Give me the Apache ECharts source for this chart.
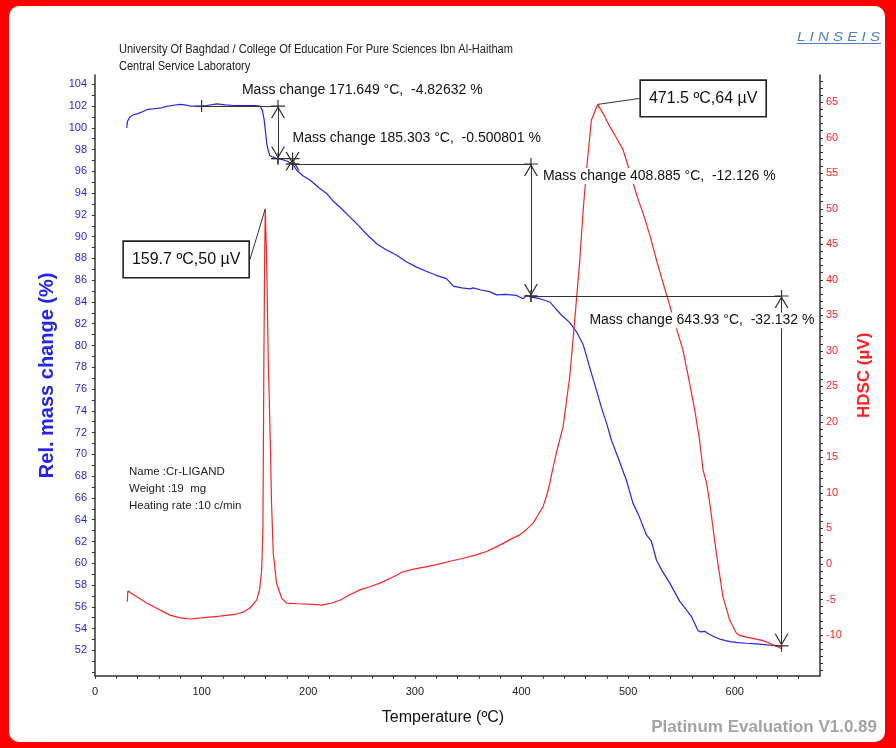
<!DOCTYPE html>
<html>
<head>
<meta charset="utf-8">
<title>TGA / HDSC - Cr-LIGAND</title>
<script src="https://cdn.jsdelivr.net/npm/echarts@6/dist/echarts.min.js"></script>
<style>
  html, body { margin: 0; padding: 0; background: #fff; }
  #chart { width: 896px; height: 748px; }
</style>
</head>
<body>
<div id="chart"></div>
<script>
// TGA curve: [temperature (°C), rel. mass (%)]
const tgaCurve = [
  [29.7, 100.0], [30.5, 100.6], [32.8, 101.0], [36, 101.2], [40.3, 101.3], [45, 101.5],
  [49.7, 101.7], [55, 101.75], [60.9, 101.8], [66, 101.95], [72, 102.05], [79.7, 102.15],
  [84, 102.1], [89.1, 102.0], [94, 102.0], [98.4, 101.95], [105, 102.05], [114.4, 102.2],
  [122, 102.1], [130, 102.05], [140, 102.05], [150, 102.05], [154.7, 102.0], [157, 101.6],
  [158.7, 100.7], [160, 99.6], [161, 98.6], [162.5, 97.9], [164, 97.45], [167, 97.3],
  [170.3, 97.2], [175, 97.1], [179.7, 96.95], [183, 96.8], [185.9, 96.63], [189.1, 96.1],
  [195, 95.6], [201.6, 95.2], [210, 94.5], [217.2, 93.97], [223, 93.3], [229.8, 92.7],
  [237, 92.0], [245.4, 91.2], [255, 90.2], [264.2, 89.35], [273, 88.8], [283, 88.3],
  [292, 87.7], [301.6, 87.2], [310, 86.85], [320, 86.45], [329.7, 86.15], [336, 85.45],
  [344, 85.3], [351.7, 85.2], [354.8, 85.3], [362, 85.1], [370, 84.95], [376.6, 84.65],
  [385, 84.7], [395.4, 84.6], [401.6, 84.3], [404.7, 84.6], [409.4, 84.45], [417.2, 84.3],
  [426.5, 84.0], [431, 83.5], [437, 82.85], [445.3, 82.1], [452, 81.2], [457.8, 80.1],
  [464, 78.0], [470, 76.0], [475, 74.3], [480, 72.8], [484.4, 71.3], [491, 69.6],
  [498.5, 67.6], [504.6, 65.5], [510, 64.4], [517.2, 62.6], [521.9, 62.0], [526.6, 60.3],
  [532, 59.3], [539, 58.2], [544, 57.3], [548.4, 56.5], [554, 55.8], [559.4, 55.1],
  [565.6, 53.8], [568, 53.7], [571.9, 53.75], [575, 53.55], [579.6, 53.3], [587, 53.0],
  [595.3, 52.8], [603, 52.7], [611, 52.65], [620, 52.6], [630, 52.5], [643.9, 52.4]
];

// HDSC curve: [temperature (°C), signal (µV)]
const dscCurve = [
  [30.3, -5.3], [30.8, -3.8], [33, -4.0], [40, -4.7], [48.5, -5.5], [60, -6.4],
  [70.3, -7.2], [80, -7.6], [89.1, -7.75], [100, -7.6], [117.2, -7.35], [132.8, -7.05],
  [140, -6.7], [145.3, -6.2], [151.6, -5.1], [154.5, -3.5], [156.3, -0.9], [157.5, 5],
  [158.4, 28.7], [159.2, 44], [159.7, 50], [161, 42.8], [162.5, 28.7], [164.7, 15.6],
  [165.5, 9], [167.2, 1.5], [170.3, -2.7], [175, -4.8], [179.7, -5.5], [190, -5.6],
  [204.7, -5.7], [212.5, -5.8], [222, -5.5], [229.7, -5.1], [238, -4.4], [248.4, -3.65],
  [257.8, -3.2], [267.2, -2.7], [280, -1.8], [289, -1.1], [300, -0.7], [310, -0.4],
  [320.3, -0.1], [332, 0.35], [345.3, 0.8], [357, 1.25], [367.2, 1.75], [375, 2.3],
  [382.8, 2.9], [390, 3.5], [398.4, 4.1], [405, 4.9], [410.9, 5.75], [416, 7],
  [420.3, 8.1], [424, 9.8], [426.6, 11.4], [429.1, 13.2], [433, 15.8], [439, 19.3],
  [445.3, 26.4], [450, 34.4], [454.7, 42.8], [458, 50], [461, 55.5], [465.6, 62.5],
  [471.5, 64.7], [477, 63.3], [482.8, 61.6], [489, 60], [495.3, 58.3], [500, 56],
  [504.7, 53.6], [509, 51.5], [514, 49.4], [520, 46.5], [526.6, 42.8], [531, 40.5],
  [537.5, 37.2], [544, 33.8], [551.5, 30.1], [557, 26], [562.5, 21.7], [567, 17.5],
  [570.3, 13.2], [573.4, 11.6], [576.6, 8.55], [582.8, 1.5], [589, -4.6], [595.3, -7.9],
  [601.6, -9.76], [605, -10.1], [610.9, -10.3], [618, -10.5], [626.5, -10.8], [635, -11.3],
  [643.8, -11.9]
];

// mass change evaluation (start of first level line, then each step)
const levelStart = [100, 102.0];
const stepTemps = [171.649, 185.303, 408.885, 643.93];
const stepLosses = [-4.82632, -0.500801, -12.126, -32.132];

// DSC peak picks
const peakTemps = [159.7, 471.5];
const peakValues = [50, 64];

// axis labels
const tempLabels = [0, 100, 200, 300, 400, 500, 600];
const massLabels = [52, 54, 56, 58, 60, 62, 64, 66, 68, 70, 72, 74, 76, 78, 80, 82, 84, 86, 88, 90, 92, 94, 96, 98, 100, 102, 104];
const hdscLabels = [-10, -5, 0, 5, 10, 15, 20, 25, 30, 35, 40, 45, 50, 55, 60, 65];

const headerLines = [
  'University Of Baghdad / College Of Education For Pure Sciences Ibn Al-Haitham',
  'Central Service Laboratory'
];
const sampleInfo = ['Name :Cr-LIGAND', 'Weight :19  mg', 'Heating rate :10 c/min'];

const BLUE = '#2424f0';
const RED = '#ff2222';
const INK = '#333333';
const FONT = "'Liberation Sans', Arial, sans-serif";

const range = (from, to, step) => {
  const out = [];
  for (let v = from; v <= to + 1e-9; v += step) out.push(Math.round(v * 1000) / 1000);
  return out;
};

// arrow end: cross bar + short stub beyond the end + open V head
const arrowEnd = 'path://M0,-12L0.01,-12L0,-12Z M-7,-0.6H7V0.6H-7Z M-0.6,-6H0.6V0H-0.6Z M0,0L-7,12H-5.6L0,2.4L5.6,12H7Z';
const plusMark = 'path://M-0.6,-6H0.6V6H-0.6Z M-6,-0.6H6V0.6H-6Z';

// level lines and step arrows
const stepLines = [];
const stepNotes = [];
const noteLayout = [
  { position: [-36, -16], align: 'left' },
  { position: [0, -20], align: 'left' },
  { position: [12, 12], align: 'left' },
  { position: [33, 24.5], align: 'right' }
];
let fromT = levelStart[0];
let level = levelStart[1];
stepTemps.forEach((t, i) => {
  const next = level + stepLosses[i];
  stepLines.push([
    { coord: [fromT, level], symbol: plusMark, symbolSize: [12, 12] },
    { coord: [t, level], symbol: 'none' }
  ]);
  stepLines.push([
    { coord: [t, level], symbol: arrowEnd, symbolSize: [14, 24] },
    { coord: [t, next], symbol: arrowEnd, symbolSize: [14, 24] }
  ]);
  stepNotes.push({
    value: [t, level],
    label: {
      formatter: 'Mass change ' + t + ' °C,  ' + stepLosses[i] + ' %',
      position: noteLayout[i].position,
      align: noteLayout[i].align,
      verticalAlign: 'middle'
    }
  });
  fromT = t;
  level = next;
});

const peakLayout = [[-141.3, 33.2], [43.3, -23.4]];
const peakItems = peakTemps.map((t, i) => {
  const onCurve = dscCurve.find((p) => p[0] === t);
  return {
    value: onCurve,
    label: {
      formatter: t + ' ºC,' + peakValues[i] + ' µV',
      position: peakLayout[i]
    }
  };
});

const chart = echarts.init(document.getElementById('chart'));

const option = {
  animation: false,
  textStyle: { fontFamily: FONT },
  grid: { left: 95, right: 76, top: 75, bottom: 72.3 },
  graphic: [
    { type: 'rect', z: -10, silent: true, shape: { x: 0, y: 0, width: 896, height: 748 }, style: { fill: '#ff0000' } },
    { type: 'rect', z: -9, silent: true, shape: { x: 9, y: 6, width: 876, height: 736, r: 10 }, style: { fill: '#ffffff' } },
    {
      type: 'text', x: 119, y: 50, scaleX: 0.92, silent: true,
      style: { text: headerLines[0], font: '12px ' + FONT, fill: '#222', verticalAlign: 'middle' }
    },
    {
      type: 'text', x: 119, y: 67, scaleX: 0.92, silent: true,
      style: { text: headerLines[1], font: '12px ' + FONT, fill: '#222', verticalAlign: 'middle' }
    },
    {
      type: 'text', x: 797, y: 37, scaleX: 1.16, silent: true,
      style: { text: 'L I N S E I S', font: 'italic 13px ' + FONT, fill: '#4d7ec6', verticalAlign: 'middle' }
    },
    { type: 'rect', silent: true, shape: { x: 797, y: 43, width: 84, height: 1 }, style: { fill: '#4d7ec6' } },
    {
      type: 'group', x: 129, y: 472, silent: true,
      children: sampleInfo.map((line, i) => ({
        type: 'text', x: 0, y: i * 17,
        style: { text: line, font: '11.5px ' + FONT, fill: '#222', verticalAlign: 'middle' }
      }))
    },
    {
      type: 'text', x: 877, y: 727, silent: true,
      style: { text: 'Platinum Evaluation V1.0.89', font: 'bold 17px ' + FONT, fill: '#a3a3a3', align: 'right', verticalAlign: 'middle' }
    }
  ],
  xAxis: {
    type: 'value',
    min: 0,
    max: 680,
    name: 'Temperature (ºC)',
    nameLocation: 'middle',
    nameGap: 34,
    nameTextStyle: { fontSize: 16, color: '#111', padding: [0, 29, 0, 0] },
    axisLine: { onZero: false, lineStyle: { color: INK, width: 1.5 } },
    axisTick: { customValues: range(0, 660, 20), length: 3, lineStyle: { color: INK } },
    axisLabel: { customValues: tempLabels, color: '#222', fontSize: 11, margin: 11 },
    splitLine: { show: false }
  },
  yAxis: [
    {
      type: 'value',
      position: 'left',
      min: 49.67,
      max: 104.85,
      name: 'Rel. mass change (%)',
      nameLocation: 'middle',
      nameGap: 32,
      nameTextStyle: { fontSize: 20, fontWeight: 'bold', color: BLUE },
      axisLine: { show: true, onZero: false, lineStyle: { color: INK, width: 1.5 } },
      axisTick: { customValues: range(50, 104, 1), length: 3, lineStyle: { color: INK } },
      axisLabel: { customValues: massLabels, color: BLUE, fontSize: 11, margin: 8 },
      splitLine: { show: false }
    },
    {
      type: 'value',
      position: 'right',
      min: -15.73,
      max: 68.84,
      name: 'HDSC (µV)',
      nameLocation: 'middle',
      nameGap: 36,
      nameRotate: 90,
      nameTextStyle: { fontSize: 17, fontWeight: 'bold', color: RED },
      axisLine: { show: true, onZero: false, lineStyle: { color: INK, width: 1.5 } },
      axisTick: { customValues: range(-15, 68, 1), length: 3, lineStyle: { color: INK } },
      axisLabel: { customValues: hdscLabels, color: RED, fontSize: 11, margin: 6 },
      splitLine: { show: false }
    }
  ],
  series: [
    {
      name: 'Level lines',
      type: 'line',
      yAxisIndex: 0,
      data: [],
      z: 1,
      markLine: {
        silent: true,
        symbol: 'none',
        label: { show: false },
        emphasis: { disabled: true },
        lineStyle: { color: INK, width: 1, type: 'solid' },
        data: stepLines
      }
    },
    {
      name: 'Rel. mass change',
      type: 'line',
      yAxisIndex: 0,
      data: tgaCurve,
      showSymbol: false,
      symbol: 'none',
      silent: true,
      z: 3,
      lineStyle: { color: BLUE, width: 1.2 },
      itemStyle: { color: BLUE }
    },
    {
      name: 'HDSC',
      type: 'line',
      yAxisIndex: 1,
      data: dscCurve,
      showSymbol: false,
      symbol: 'none',
      silent: true,
      z: 3,
      lineStyle: { color: RED, width: 1.2 },
      itemStyle: { color: RED }
    },
    {
      name: 'Mass change notes',
      type: 'scatter',
      yAxisIndex: 0,
      data: stepNotes,
      symbolSize: 0.1,
      silent: true,
      z: 10,
      itemStyle: { color: 'transparent', opacity: 1 },
      label: {
        show: true,
        fontSize: 14,
        color: '#111',
        opacity: 1,
        backgroundColor: '#ffffff',
        padding: [1, 0]
      }
    },
    {
      name: 'Peaks',
      type: 'scatter',
      yAxisIndex: 1,
      data: peakItems,
      symbolSize: 0.1,
      silent: true,
      z: 10,
      itemStyle: { color: 'transparent', opacity: 1 },
      label: {
        show: true,
        fontSize: 16,
        color: '#111',
        opacity: 1,
        align: 'left',
        verticalAlign: 'top',
        backgroundColor: '#ffffff',
        borderColor: '#222',
        borderWidth: 1.6,
        padding: [9, 8, 8, 8],
        lineHeight: 18
      },
      labelLine: { show: true, lineStyle: { color: INK, width: 1, opacity: 1 } }
    }
  ]
};

chart.setOption(option);
window.addEventListener('resize', () => chart.resize());
</script>
</body>
</html>
